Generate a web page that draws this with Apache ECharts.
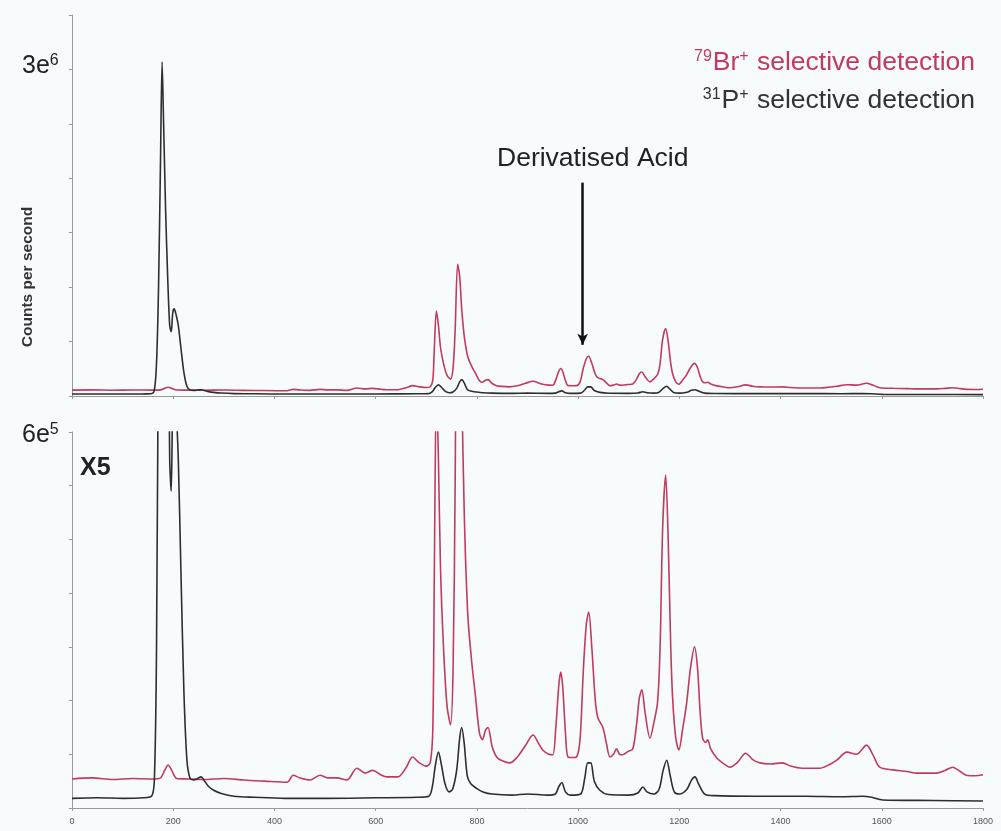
<!DOCTYPE html>
<html>
<head>
<meta charset="utf-8">
<script src="https://cdn.jsdelivr.net/npm/echarts@6/dist/echarts.min.js"></script>
<style>
  html, body { margin: 0; padding: 0; background: #f8fbfb; }
  #chart { width: 1001px; height: 831px; }
</style>
</head>
<body>
<div id="chart"></div>
<script>
// retention time axis (s) and counts per second
const brX = [0, 40, 80, 120, 160, 175, 183, 190, 197, 207, 230, 260, 300, 340, 380, 425, 437, 450, 470, 490, 505, 523, 543, 563, 579, 594, 610, 622, 644, 660, 673, 685, 700, 708,
  713, 716, 720, 724, 728, 734, 741, 748, 753, 757, 762, 766, 770, 775, 782, 790, 797, 805, 811, 817, 822, 830, 839, 850, 865, 880, 895, 911, 922, 930, 942, 950,
  956, 962, 966, 970, 975, 980, 990, 997, 1004, 1010, 1016, 1021, 1027, 1034, 1039, 1049, 1056, 1063, 1070, 1076, 1082, 1088, 1098, 1108, 1116, 1121, 1126, 1132,
  1142, 1150, 1157, 1162, 1167, 1173, 1178, 1183, 1187, 1193, 1199, 1207, 1214, 1222, 1230, 1236, 1241, 1246, 1252, 1256, 1262, 1274, 1288, 1300, 1315, 1331,
  1345, 1359, 1380, 1404, 1420, 1442, 1477, 1495, 1511, 1531, 1550, 1570, 1582, 1596, 1622, 1650, 1669, 1708, 1725, 1740, 1755, 1767, 1785, 1800];
const brY = [5.4e4, 5.6e4, 5.3e4, 5.5e4, 5.4e4, 5.6e4, 7e4, 8e4, 7e4, 5.5e4, 5.4e4, 5.3e4, 5.5e4, 5.2e4, 5.0e4, 4.8e4, 6.1e4, 5.6e4, 5.2e4, 6.1e4, 5.6e4, 5.6e4, 5.2e4, 7.4e4, 6.5e4, 7e4, 6.2e4, 5.8e4, 5.8e4, 7.5e4, 9.5e4, 8.5e4, 7.8e4, 8.5e4,
  1.5e5, 4.5e5, 7.8e5, 6.5e5, 4.5e5, 3e5, 1.9e5, 1.55e5, 2.6e5, 6e5, 1.21e6, 1.1e6, 8e5, 5.5e5, 3.6e5, 2.7e5, 2.1e5, 1.4e5, 1.27e5, 1.45e5, 1.5e5, 1.15e5, 9.5e4, 8.8e4, 8.4e4, 9.5e4, 1.15e5, 1.36e5, 1.2e5, 1.08e5, 1.0e5, 9.9e4,
  1.5e5, 2.3e5, 2.53e5, 2.2e5, 1.4e5, 9.5e4, 9.4e4, 9.5e4, 1.3e5, 2.5e5, 3.4e5, 3.65e5, 3e5, 2e5, 1.68e5, 1.5e5, 1.2e5, 9.5e4, 1.0e5, 1.1e5, 1.0e5, 9.9e4, 1.05e5, 1.1e5, 1.6e5, 2.05e5, 2.2e5, 1.8e5,
  1.3e5, 1.6e5, 1.97e5, 3e5, 5.2e5, 6.2e5, 5e5, 3e5, 2e5, 1.3e5, 1.08e5, 1.5e5, 1.92e5, 2.6e5, 3.0e5, 2.6e5, 1.8e5, 1.3e5, 1.22e5, 1.27e5, 1.1e5, 9.3e4, 8.2e4, 7.6e4, 8.5e4, 1.02e5,
  9e4, 8.4e4, 8.2e4, 8.4e4, 7.8e4, 7.4e4, 7.4e4, 8e4, 8.9e4, 1.04e5, 1.0e5, 1.17e5, 1.0e5, 7.6e4, 7.1e4, 6.8e4, 6.5e4, 6.5e4, 7e4, 7.6e4, 6.8e4, 6.1e4, 6e4, 6.2e4];

const pX = [0, 50, 100, 140, 158, 163, 167, 171, 175, 178, 181, 185, 189, 193, 196, 199, 202, 206, 210, 215, 221, 227, 233, 240, 248, 255, 262, 270, 280, 295, 320, 360, 420, 500, 600, 680,
  705, 712, 718, 724, 730, 737, 745, 752, 760, 766, 770, 775, 781, 788, 800, 812, 830, 870, 900, 940, 955, 962, 968, 975, 985, 1005, 1013, 1019, 1025, 1032, 1043, 1060,
  1100, 1118, 1128, 1136, 1150, 1160, 1168, 1175, 1182, 1190, 1200, 1215, 1224, 1231, 1238, 1250, 1270, 1350, 1450, 1520, 1562, 1580, 1602, 1700, 1800];
const pY = [1.8e4, 1.9e4, 1.8e4, 1.9e4, 2.3e4, 6e4, 3e5, 1.0e6, 2.2e6, 3.07e6, 2.5e6, 1.7e6, 1.1e6, 6.5e5, 5.9e5, 7.6e5, 8e5, 7.4e5, 6.5e5, 4.5e5, 2.2e5, 9e4, 5.6e4, 5.2e4, 5.5e4, 5.8e4, 5e4, 4e4, 3.3e4, 2.7e4, 2.2e4, 2e4, 1.8e4, 1.8e4, 1.9e4, 2e4,
  2.2e4, 4e4, 8e4, 1.04e5, 8e4, 4.5e4, 3e4, 3.5e4, 7e4, 1.3e5, 1.5e5, 1.2e5, 6e4, 4.5e4, 3.6e4, 3e4, 2.6e4, 2.4e4, 2.6e4, 2.4e4, 2.6e4, 4e4, 4.7e4, 3e4, 2.4e4, 2.6e4, 5.5e4, 8.4e4, 8.4e4, 5e4, 3.3e4, 2.5e4,
  2.4e4, 2.8e4, 3.9e4, 3e4, 2.6e4, 3.5e4, 7e4, 8.9e4, 6e4, 3e4, 2.6e4, 3.5e4, 5.2e4, 5.8e4, 4.5e4, 2.6e4, 2.3e4, 2.2e4, 2.2e4, 2.1e4, 2.2e4, 2.0e4, 1.5e4, 1.4e4, 1.3e4];

const topMax = 3.5e6;
const bottomMax = 7e5; // lower panel is the same run shown x5

const brData = brX.map((x, i) => [x, brY[i]]);
const pData = pX.map((x, i) => [x, pY[i]]);

const red = '#c23a60';
const dark = '#2e2e2e';
const axisGrey = '#9a9a9a';
const font = 'Liberation Sans, Arial, sans-serif';

let chart = echarts.init(document.getElementById('chart'));

function xAxisOf(gridIndex, showLabels) {
  return {
    type: 'value',
    gridIndex: gridIndex,
    min: 0,
    max: 1800,
    interval: 200,
    axisLine: { lineStyle: { color: axisGrey, width: 1 } },
    axisTick: { show: true, length: 3, lineStyle: { color: axisGrey } },
    axisLabel: {
      show: showLabels,
      fontSize: 9,
      color: '#555',
      fontFamily: font,
      margin: 9,
      formatter: v => String(v)
    },
    splitLine: { show: false }
  };
}

function yAxisOf(gridIndex, max, step) {
  return {
    type: 'value',
    gridIndex: gridIndex,
    min: 0,
    max: max,
    interval: step,
    axisLine: { show: true, lineStyle: { color: axisGrey, width: 1 } },
    axisTick: { show: true, length: 3, lineStyle: { color: axisGrey } },
    axisLabel: { show: false },
    splitLine: { show: false }
  };
}

const sup = { fontSize: 16, fontFamily: font, verticalAlign: 'top', padding: [0, 1, 11, 0] };

function supText(left, top, body, fill, size) {
  return {
    type: 'text', left: left, top: top,
    style: {
      text: body,
      rich: { s: Object.assign({}, sup, { fill: fill }), t: { fontSize: size, fontFamily: font, fill: fill } }
    }
  };
}

chart.setOption({
  animation: false,
  backgroundColor: '#f8fbfb',
  grid: [
    { left: 72, right: 18, top: 15, height: 381 },
    { left: 72, right: 18, top: 432, height: 376 }
  ],
  xAxis: [xAxisOf(0, false), xAxisOf(1, true)],
  yAxis: [yAxisOf(0, topMax, 5e5), yAxisOf(1, bottomMax, 1e5)],
  series: [
    {
      name: '79Br+', type: 'line', xAxisIndex: 0, yAxisIndex: 0, data: brData,
      showSymbol: false, smooth: 0.3, lineStyle: { color: red, width: 1.6 },
      markLine: {
        silent: true,
        symbol: ['none', 'arrow'],
        symbolSize: [8, 11],
        label: { show: false },
        lineStyle: { color: '#111', width: 2.5, type: 'solid' },
        data: [[{ coord: [1009, 1.96e6] }, { coord: [1009, 4.7e5] }]]
      }
    },
    {
      name: '31P+', type: 'line', xAxisIndex: 0, yAxisIndex: 0, data: pData,
      showSymbol: false, smooth: 0.3, lineStyle: { color: dark, width: 1.6 }
    },
    {
      name: '79Br+ x5', type: 'line', xAxisIndex: 1, yAxisIndex: 1, data: brData,
      showSymbol: false, smooth: 0.3, clip: true, lineStyle: { color: red, width: 1.6 }
    },
    {
      name: '31P+ x5', type: 'line', xAxisIndex: 1, yAxisIndex: 1, data: pData,
      showSymbol: false, smooth: 0.3, clip: true, lineStyle: { color: dark, width: 1.6 }
    }
  ],
  graphic: [
    Object.assign(supText(0, 49, '{s|79}{t|Br}{s|+}{t| selective detection}', red, 26.5), { left: null, right: 26 }),
    Object.assign(supText(0, 87, '{s|31}{t|P}{s|+}{t| selective detection}', '#333', 26.5), { left: null, right: 26 }),
    {
      type: 'text', left: 497, top: 145,
      style: { text: 'Derivatised Acid', fontSize: 26.5, fontFamily: font, fill: '#222' }
    },
    supText(22, 53, '{t|3e}{s|6}', '#222', 25),
    supText(22, 422, '{t|6e}{s|5}', '#222', 25),
    {
      type: 'text', left: 80, top: 456,
      style: { text: 'X5', fontSize: 25, fontWeight: 'bold', fontFamily: font, fill: '#222' }
    },
    {
      type: 'text', x: 28, y: 277, rotation: Math.PI / 2,
      style: {
        text: 'Counts per second', fontSize: 15.5, fontWeight: 'bold', fontFamily: font,
        fill: '#333', align: 'center', verticalAlign: 'middle'
      }
    }
  ]
});
</script>
</body>
</html>
